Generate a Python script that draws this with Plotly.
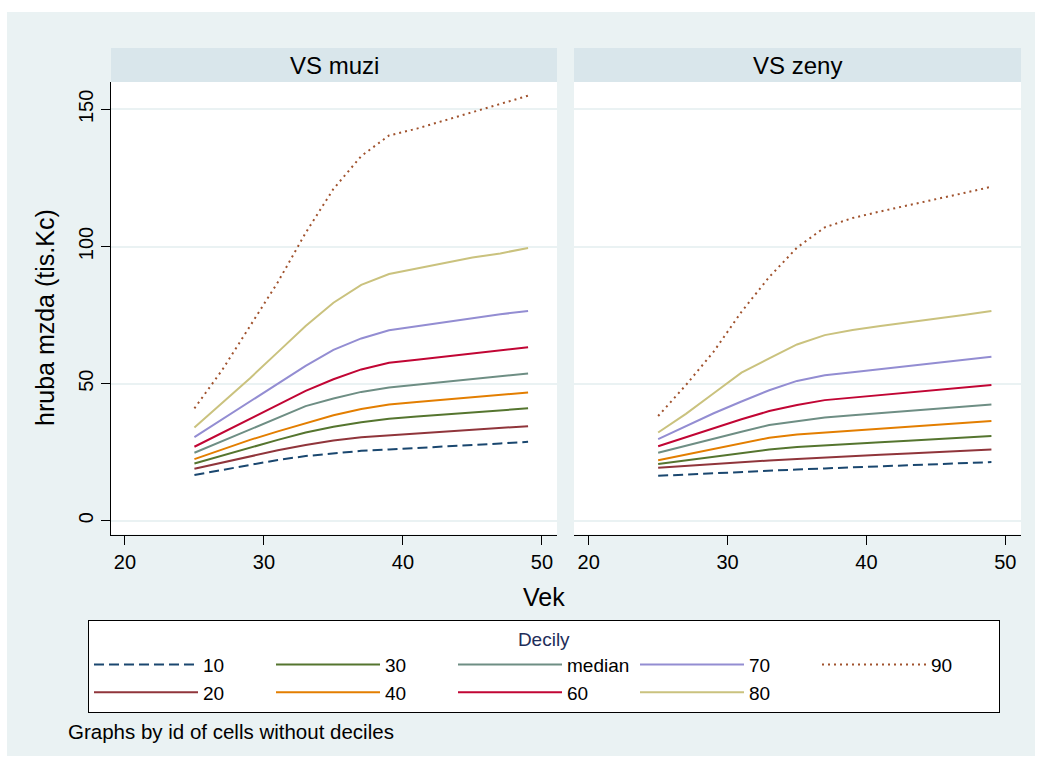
import plotly.graph_objects as go

ages = [25, 27, 29, 31, 33, 35, 37, 39, 41, 43, 45, 47, 49]

deciles = ["10", "20", "30", "40", "median", "60", "70", "80", "90"]

muzi = {
    "10":     [16.7, 18.6, 20.5, 22.2, 23.6, 24.6, 25.5, 26.0, 26.5, 27.1, 27.7, 28.2, 28.8],
    "20":     [19.0, 21.2, 23.5, 25.7, 27.6, 29.3, 30.5, 31.2, 31.9, 32.5, 33.2, 33.9, 34.5],
    "30":     [20.9, 23.8, 26.7, 29.5, 32.2, 34.3, 35.9, 37.2, 38.0, 38.7, 39.5, 40.2, 41.0],
    "40":     [22.5, 26.0, 29.5, 32.6, 35.6, 38.5, 40.8, 42.4, 43.3, 44.2, 45.0, 45.9, 46.8],
    "median": [24.8, 29.0, 33.3, 37.5, 41.8, 44.6, 47.0, 48.6, 49.6, 50.6, 51.7, 52.7, 53.7],
    "60":     [27.0, 32.0, 37.2, 42.3, 47.4, 51.6, 55.2, 57.6, 58.7, 59.8, 61.0, 62.1, 63.3],
    "70":     [30.5, 37.0, 43.5, 50.0, 56.5, 62.3, 66.5, 69.5, 71.0, 72.5, 74.0, 75.3, 76.5],
    "80":     [34.0, 43.0, 52.0, 61.5, 71.0, 79.5, 86.0, 90.0, 92.0, 94.0, 96.0, 97.5, 99.5],
    "90":     [41.0, 55.0, 71.0, 87.0, 105.0, 121.0, 133.0, 140.5, 143.0, 146.0, 149.0, 152.0, 155.0],
}

zeny = {
    "10":     [16.4, 16.9, 17.4, 17.9, 18.3, 18.7, 19.1, 19.5, 19.9, 20.3, 20.6, 21.0, 21.4],
    "20":     [19.3, 20.0, 20.6, 21.3, 22.0, 22.5, 23.1, 23.6, 24.1, 24.5, 25.0, 25.5, 26.0],
    "30":     [20.7, 22.0, 23.3, 24.7, 26.0, 26.9, 27.4, 28.0, 28.6, 29.2, 29.7, 30.3, 30.9],
    "40":     [22.1, 24.2, 26.2, 28.3, 30.3, 31.5, 32.2, 32.9, 33.6, 34.3, 35.0, 35.7, 36.4],
    "median": [24.8, 27.4, 30.0, 32.5, 34.9, 36.3, 37.7, 38.5, 39.3, 40.1, 40.8, 41.6, 42.4],
    "60":     [27.2, 30.5, 33.8, 37.0, 40.0, 42.2, 44.0, 44.9, 45.8, 46.8, 47.7, 48.6, 49.5],
    "70":     [29.8, 34.5, 39.2, 43.5, 47.6, 51.0, 53.1, 54.2, 55.3, 56.4, 57.5, 58.6, 59.8],
    "80":     [32.2, 39.0, 46.5, 54.0, 59.2, 64.3, 67.7, 69.6, 71.0, 72.3, 73.7, 75.0, 76.5],
    "90":     [38.2, 49.5, 61.7, 76.2, 88.9, 99.6, 107.0, 110.4, 112.8, 115.0, 117.1, 119.5, 121.8],
}

panel_titles = ["VS muzi", "VS zeny"]
x_ticks = [20, 30, 40, 50]
y_ticks = [0, 50, 100, 150]

colors = {
    "10": "#1a476f", "20": "#90353b", "30": "#55752f", "40": "#e37e00",
    "median": "#6e8e84", "60": "#c10534", "70": "#938dd2", "80": "#cac27e",
    "90": "#a0522d",
}
dashes = {"10": "10px,5px", "90": "2px,4px"}
legend_rank = {"10": 1, "30": 2, "median": 3, "70": 4, "90": 5,
               "20": 6, "40": 7, "60": 8, "80": 9}

W, H = 1042, 763
FONT = "Liberation Sans, Arial, sans-serif"
BG = "#EAF2F3"

def px(x):
    return x / W

def py(y):
    return (H - y) / H

fig = go.Figure()

for d in deciles:
    for i, data in enumerate([muzi, zeny]):
        fig.add_trace(go.Scatter(
            x=ages, y=data[d], mode="lines", name=d,
            line=dict(color=colors[d], width=2, dash=dashes.get(d, "solid")),
            xaxis="x" if i == 0 else "x2", yaxis="y" if i == 0 else "y2",
            legendgroup=d, showlegend=(i == 0), legendrank=legend_rank[d],
            hoverinfo="skip",
        ))

ytop, ybot = 82, 534.5
xcommon = dict(tickvals=x_ticks, ticks="outside", ticklen=9, tickcolor="black",
               showline=True, linecolor="black", linewidth=1, showgrid=False,
               zeroline=False, tickfont=dict(size=20, color="black", family=FONT))
ycommon = dict(tickvals=y_ticks, range=[-5, 160], showgrid=True, gridcolor=BG,
               gridwidth=1.5, zeroline=False)

fig.update_layout(
    width=W, height=H, margin=dict(l=0, r=0, t=0, b=0),
    paper_bgcolor=BG, plot_bgcolor="white",
    font=dict(family=FONT, color="black"),
    xaxis=dict(domain=[px(111), px(557)], range=[19.0, 51.08], anchor="y", **xcommon),
    xaxis2=dict(domain=[px(574), px(1021)], range=[18.94, 51.13], anchor="y2", **xcommon),
    yaxis=dict(domain=[py(ybot), py(ytop)], anchor="x", ticks="outside", ticklen=9,
               tickcolor="black", showline=True, linecolor="black", linewidth=1,
               tickangle=-90, tickfont=dict(size=20, color="black", family=FONT), **ycommon),
    yaxis2=dict(domain=[py(ybot), py(ytop)], anchor="x2", showticklabels=False,
                ticks="", showline=False, **ycommon),
    showlegend=True,
    legend=dict(
        orientation="h", x=px(88), y=py(620), xanchor="left", yanchor="top",
        bgcolor="white", bordercolor="black", borderwidth=1,
        itemwidth=104, entrywidth=63, traceorder="normal",
        font=dict(size=19, color="black", family=FONT),
        title=dict(text="Decily", side="top center",
                   font=dict(size=19, color="#1e2d5a", family=FONT)),
        itemclick=False, itemdoubleclick=False,
    ),
)

shapes = []
# white outer border around the graph region
for (x0, y0, x1, y1) in [(0, 0, W, 12), (0, 0, 7, H), (1035, 0, W, H), (0, 756, W, H)]:
    shapes.append(dict(type="rect", xref="paper", yref="paper",
                       x0=px(x0), x1=px(x1), y0=py(y1), y1=py(y0),
                       fillcolor="white", line=dict(width=0), layer="above"))
# strip headers
for (x0, x1) in [(111, 557), (574, 1021)]:
    shapes.append(dict(type="rect", xref="paper", yref="paper",
                       x0=px(x0), x1=px(x1), y0=py(82), y1=py(48),
                       fillcolor="#D9E6EB", line=dict(width=0), layer="below"))
fig.update_layout(shapes=shapes)

annotations = []
for (x0, x1), t in zip([(111, 557), (574, 1021)], panel_titles):
    annotations.append(dict(text=t, x=px((x0 + x1) / 2), y=py(65), xref="paper", yref="paper",
                            showarrow=False, xanchor="center", yanchor="middle",
                            font=dict(size=24, color="black", family=FONT)))
annotations.append(dict(text="hruba mzda (tis.Kc)", x=px(45), y=py(318), xref="paper",
                        yref="paper", showarrow=False, textangle=-90,
                        xanchor="center", yanchor="middle",
                        font=dict(size=25, color="black", family=FONT)))
annotations.append(dict(text="Vek", x=px(544), y=py(597), xref="paper", yref="paper",
                        showarrow=False, xanchor="center", yanchor="middle",
                        font=dict(size=25, color="black", family=FONT)))
annotations.append(dict(text="Graphs by id of cells without deciles", x=px(66), y=py(731),
                        xref="paper", yref="paper", showarrow=False,
                        xanchor="left", yanchor="middle",
                        font=dict(size=20.5, color="black", family=FONT)))
fig.update_layout(annotations=annotations)

fig.write_html("out.html")
